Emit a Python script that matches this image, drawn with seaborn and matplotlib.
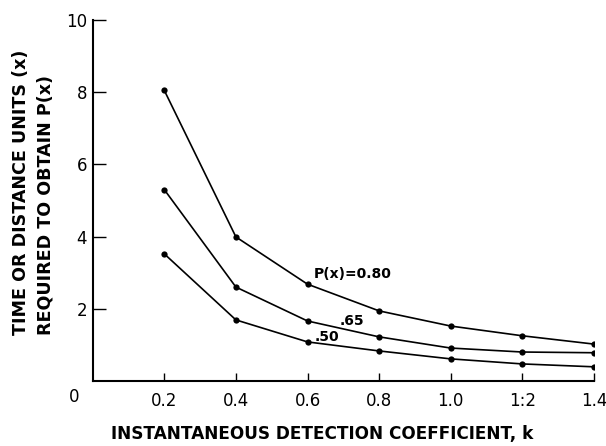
import numpy as np
import pandas as pd
import seaborn as sns
import matplotlib
matplotlib.use('Agg')
import matplotlib.pyplot as plt

# detection coefficient k
k_values = [0.2, 0.4, 0.6, 0.8, 1.0, 1.2, 1.4]
# time/distance units needed for each probability level
p80 = [8.05, 3.99, 2.68, 1.94, 1.52, 1.25, 1.02]
p65 = [5.30, 2.60, 1.66, 1.22, 0.91, 0.80, 0.78]
p50 = [3.52, 1.69, 1.08, 0.83, 0.61, 0.47, 0.39]
series_names = ['0.80', '0.65', '0.50']
xtick_labels = ['0.2', '0.4', '0.6', '0.8', '1.0', '1:2', '1.4']
yticks = [2, 4, 6, 8, 10]

df = pd.DataFrame({
    'k': k_values * 3,
    'x': p80 + p65 + p50,
    'P': [series_names[0]] * 7 + [series_names[1]] * 7 + [series_names[2]] * 7,
})

sns.set_style('ticks')
plt.rcParams['font.family'] = ['DejaVu Sans']
plt.rcParams['text.color'] = 'black'
plt.rcParams['xtick.color'] = 'black'
plt.rcParams['ytick.color'] = 'black'
plt.rcParams['axes.labelcolor'] = 'black'
plt.rcParams['axes.edgecolor'] = 'black'

fig = plt.figure(figsize=(6.06, 4.46), dpi=100)
ax = fig.add_axes([0.153, 0.146, 0.827, 0.809])

sns.lineplot(data=df, x='k', y='x', hue='P', palette=['black'] * 3,
             marker='o', markersize=4.5, markeredgewidth=0, linewidth=1.2,
             legend=False, ax=ax)

ax.set_xlim(0, 1.4)
ax.set_ylim(0, 10)
ax.set_xticks(k_values)
ax.set_xticklabels(xtick_labels)
ax.set_yticks(yticks)
ax.set_yticklabels([str(t) for t in yticks])
ax.tick_params(axis='x', direction='in', length=6, width=1, pad=8, labelsize=12)
ax.tick_params(axis='y', direction='in', length=9, width=1, pad=4, labelsize=12)
sns.despine(ax=ax)
for side in ['left', 'bottom']:
    ax.spines[side].set_linewidth(1.5)

ax.text(-0.026, -0.045, '0', transform=ax.transAxes, ha='right', va='center', fontsize=12)

ax.set_xlabel('INSTANTANEOUS DETECTION COEFFICIENT, k', fontsize=12.2, fontweight='bold')
ax.xaxis.set_label_coords(0.457, -0.122)
ax.set_ylabel('TIME OR DISTANCE UNITS (x)\nREQUIRED TO OBTAIN P(x)', fontsize=12.6,
              fontweight='bold', multialignment='left', linespacing=1.45)
ax.yaxis.set_label_coords(-0.077, 0.524)

ax.text(0.617, 2.97, 'P(x)=0.80', fontsize=10, fontweight='bold', va='center')
ax.text(0.69, 1.67, '.65', fontsize=10, fontweight='bold', va='center')
ax.text(0.62, 1.22, '.50', fontsize=10, fontweight='bold', va='center')

fig.savefig('out.png', dpi=100)
